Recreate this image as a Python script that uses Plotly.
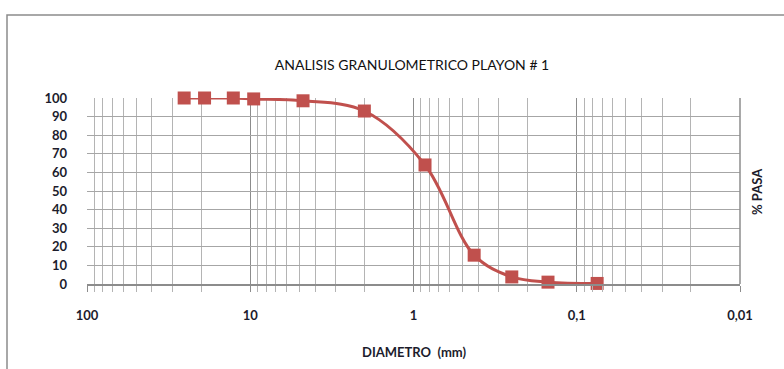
import plotly.graph_objects as go

diametro_mm = [25.4, 19.05, 12.7, 9.525, 4.75, 2.0, 0.85, 0.425, 0.25, 0.15, 0.075]
pct_pasa = [100, 100, 100, 99.5, 98.5, 93, 64, 15.5, 3.8, 1.0, 0.3]

x_tickvals = [100, 10, 1, 0.1, 0.01]
x_ticktext = ["100", "10", "1", "0,1", "0,01"]
y_tickvals = list(range(0, 101, 10))

minor_vals = [m * 10 ** k for k in (-2, -1, 0, 1) for m in range(2, 10)]

W, H = 784, 369
L, R, T, B = 87, 44, 98, 85
pw, ph = W - L - R, H - T - B

def px(x):
    return (x - L) / pw

def py(y):
    return (H - B - y) / ph

red = "#C0504D"
txt = "#1c1c2c"
fnt = "Lato"

fig = go.Figure()
fig.add_trace(go.Scatter(
    x=diametro_mm, y=pct_pasa, mode="lines+markers",
    line=dict(color=red, width=3, shape="spline", smoothing=1.0),
    marker=dict(symbol="square", size=13, color=red),
    cliponaxis=False, showlegend=False,
))

fig.update_layout(
    width=W, height=H,
    margin=dict(l=L, r=R, t=T, b=B),
    paper_bgcolor="white", plot_bgcolor="white",
    title=dict(text="ANALISIS GRANULOMETRICO PLAYON # 1",
               x=412 / W, xanchor="center", y=1 - 65 / H, yanchor="middle",
               font=dict(family=fnt, size=14, color="#111")),
    xaxis=dict(
        type="log", range=[2, -2],
        tickmode="array", tickvals=x_tickvals, ticktext=x_ticktext,
        showgrid=True, gridcolor="#8c8c8c", gridwidth=1.2,
        ticks="outside", ticklen=6, tickcolor="#8c8c8c",
        showline=True, linecolor="#8c8c8c", linewidth=1.5,
        tickfont=dict(family=fnt, size=13, color=txt, weight="bold"),
        ticklabelstandoff=13,
        minor=dict(tickmode="array", tickvals=minor_vals, showgrid=True,
                   gridcolor="#b4b4b4", gridwidth=1.2, ticks="outside",
                   ticklen=6, tickcolor="#b4b4b4"),
        zeroline=False, fixedrange=True,
    ),
    yaxis=dict(
        range=[0, 100], tickmode="array", tickvals=y_tickvals,
        showgrid=True, gridcolor="#a6a6a6", gridwidth=1.2,
        ticks="", tickfont=dict(family=fnt, size=13, color=txt, weight="bold"),
        ticklabelstandoff=19, zeroline=False, fixedrange=True,
    ),
    annotations=[
        dict(text="DIAMETRO  (mm)", xref="paper", yref="paper",
             x=px(414), y=py(352), showarrow=False, xanchor="center", yanchor="middle",
             font=dict(family=fnt, size=13, color=txt, weight="bold")),
        dict(text="% PASA", xref="paper", yref="paper",
             x=px(757), y=py(192), showarrow=False, textangle=-90,
             xanchor="center", yanchor="middle",
             font=dict(family=fnt, size=13, color=txt, weight="bold")),
    ],
    shapes=[
        dict(type="rect", xref="paper", yref="paper",
             x0=px(7), x1=px(800), y0=py(400), y1=py(15),
             line=dict(color="#8c8c8c", width=1.5), layer="below"),
        dict(type="line", xref="paper", yref="paper",
             x0=px(740), x1=px(740), y0=0, y1=1,
             line=dict(color="#8c8c8c", width=1.5)),
    ],
)

fig.write_html("out.html")
